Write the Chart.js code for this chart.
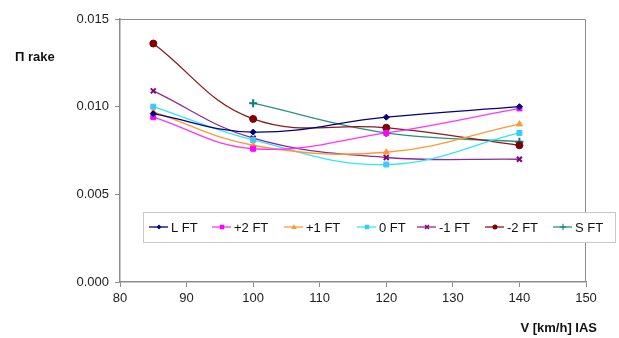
<!DOCTYPE html>
<html>
<head>
<meta charset="utf-8">
<script src="https://cdn.jsdelivr.net/npm/chart.js@4/dist/chart.umd.min.js"></script>
<style>
  html, body { margin: 0; padding: 0; background: #fff; }
  #wrap { width: 619px; height: 338px; }
</style>
</head>
<body>
<div id="wrap"><canvas id="chart" width="619" height="338"></canvas></div>
<script>
// ─── DATA ────────────────────────────────────────────────────────────────────
const speeds = [85, 100, 120, 140];
const seriesNames = ["L FT", "+2 FT", "+1 FT", "0 FT", "-1 FT", "-2 FT", "S FT"];

const lFt     = [0.0096, 0.00855, 0.0094, 0.0100];
const plus2Ft = [0.0094, 0.0076, 0.0085, 0.0099];
const plus1Ft = [0.0097, 0.0078, 0.0074, 0.0090];
const zeroFt  = [0.0100, 0.0081, 0.0067, 0.0085];
const minus1Ft = [0.0109, 0.0082, 0.0071, 0.0070];
const minus2Ft = [0.0136, 0.0093, 0.0088, 0.0078];
const sFt     = [null, 0.0102, 0.0085, 0.0080];

const yTicks = [0, 0.005, 0.010, 0.015];
const xTicks = [80, 90, 100, 110, 120, 130, 140, 150];

// ─── STYLE ───────────────────────────────────────────────────────────────────
const styles = [
    { line: "#000080", fill: "#000080", point: "rectRot",  r: 3 },
    { line: "#ff33ff", fill: "#ff00ff", point: "rect",     r: 3.5 },
    { line: "#ff9933", fill: "#ff9933", point: "triangle", r: 3.5 },
    { line: "#33e6f0", fill: "#33ccff", point: "rect",     r: 3.5 },
    { line: "#8a2b9a", fill: "#800080", point: "crossRot", r: 3.5 },
    { line: "#8b1a1a", fill: "#800000", point: "circle",   r: 3.5 },
    { line: "#2a9080", fill: "#008080", point: "cross",    r: 4 }
];

const allValues = [lFt, plus2Ft, plus1Ft, zeroFt, minus1Ft, minus2Ft, sFt];

const datasets = seriesNames.map((name, i) => ({
    label: name,
    data: speeds.map((x, j) => ({ x, y: allValues[i][j] })),
    borderColor: styles[i].line,
    backgroundColor: styles[i].fill,
    pointBorderColor: styles[i].fill,
    pointBackgroundColor: styles[i].fill,
    pointStyle: styles[i].point,
    pointRadius: styles[i].r,
    pointBorderWidth: (styles[i].point === "cross" || styles[i].point === "crossRot") ? 2 : 1,
    borderWidth: 1.3,
    tension: 0.4,
    spanGaps: true,
    fill: false
}));

// ─── PLUGINS ─────────────────────────────────────────────────────────────────
const FONT = "'Liberation Sans', Arial, sans-serif";

function drawMarker(ctx, st, x, y) {
    const r = st.r;
    ctx.save();
    ctx.fillStyle = st.fill;
    ctx.strokeStyle = st.fill;
    ctx.lineWidth = 1.5;
    ctx.beginPath();
    if (st.point === "rectRot") {
        ctx.moveTo(x, y - r); ctx.lineTo(x + r, y); ctx.lineTo(x, y + r); ctx.lineTo(x - r, y);
        ctx.closePath(); ctx.fill();
    } else if (st.point === "rect") {
        ctx.rect(x - r * 0.8, y - r * 0.8, r * 1.6, r * 1.6); ctx.fill();
    } else if (st.point === "triangle") {
        ctx.moveTo(x, y - r); ctx.lineTo(x + r, y + r * 0.7); ctx.lineTo(x - r, y + r * 0.7);
        ctx.closePath(); ctx.fill();
    } else if (st.point === "circle") {
        ctx.arc(x, y, r * 0.9, 0, Math.PI * 2); ctx.fill();
    } else if (st.point === "crossRot") {
        ctx.moveTo(x - r * 0.7, y - r * 0.7); ctx.lineTo(x + r * 0.7, y + r * 0.7);
        ctx.moveTo(x + r * 0.7, y - r * 0.7); ctx.lineTo(x - r * 0.7, y + r * 0.7);
        ctx.stroke();
    } else if (st.point === "cross") {
        ctx.moveTo(x - r, y); ctx.lineTo(x + r, y);
        ctx.moveTo(x, y - r); ctx.lineTo(x, y + r);
        ctx.lineWidth = 1; ctx.stroke();
    }
    ctx.restore();
}

const framePlugin = {
    id: "frame",
    beforeDatasetsDraw(chart) {
        const { ctx, chartArea: a } = chart;
        ctx.save();
        ctx.strokeStyle = "#8c8c8c";
        ctx.lineWidth = 1;
        ctx.beginPath();
        ctx.moveTo(a.left, a.top + 0.5);
        ctx.lineTo(a.right - 0.5, a.top + 0.5);
        ctx.lineTo(a.right - 0.5, a.bottom);
        ctx.stroke();
        ctx.restore();
    },
    afterDraw(chart) {
        const ctx = chart.ctx;
        ctx.save();
        // axis titles
        ctx.fillStyle = "#111";
        ctx.font = "bold 13px " + FONT;
        ctx.textBaseline = "middle";
        ctx.textAlign = "left";
        ctx.fillText("Π rake", 15, 57);
        ctx.textAlign = "right";
        ctx.fillText("V [km/h] IAS", 597, 328);

        // legend box
        const bx = 143, by = 212, bw = 472, bh = 30;
        ctx.fillStyle = "#fff";
        ctx.fillRect(bx, by, bw, bh);
        ctx.strokeStyle = "#c8c8c8";
        ctx.lineWidth = 1;
        ctx.strokeRect(bx + 0.5, by + 0.5, bw, bh);

        const itemX = [149, 212, 284, 357, 417, 485, 553];
        const cy = by + bh / 2;
        ctx.font = "13px " + FONT;
        ctx.textAlign = "left";
        seriesNames.forEach((name, i) => {
            const st = styles[i];
            const x0 = itemX[i];
            ctx.strokeStyle = st.line;
            ctx.lineWidth = 1.3;
            ctx.beginPath();
            ctx.moveTo(x0, cy);
            ctx.lineTo(x0 + 19, cy);
            ctx.stroke();
            drawMarker(ctx, { ...st, r: st.r * 0.8 }, x0 + 10, cy);
            ctx.fillStyle = "#111";
            ctx.fillText(name, x0 + 22, cy + 1);
        });
        ctx.restore();
    }
};

// ─── CHART ───────────────────────────────────────────────────────────────────
new Chart(document.getElementById("chart"), {
    type: "line",
    data: { datasets },
    options: {
        responsive: false,
        animation: false,
        layout: { padding: { left: 0, right: 33, top: 19, bottom: 0 } },
        plugins: {
            legend: { display: false },
            tooltip: { enabled: false }
        },
        scales: {
            x: {
                type: "linear",
                min: xTicks[0],
                max: xTicks[xTicks.length - 1],
                afterBuildTicks: s => { s.ticks = xTicks.map(v => ({ value: v })); },
                afterFit: s => { s.height = 56; },
                ticks: {
                    font: { family: FONT, size: 13 },
                    color: "#222",
                    padding: 4
                },
                grid: { drawOnChartArea: false, drawTicks: true, tickLength: 5, color: "#8c8c8c" },
                border: { display: true, color: "#8c8c8c", width: 1.5 }
            },
            y: {
                min: yTicks[0],
                max: yTicks[yTicks.length - 1],
                afterBuildTicks: s => { s.ticks = yTicks.map(v => ({ value: v })); },
                afterFit: s => { s.width = 120; },
                ticks: {
                    font: { family: FONT, size: 13 },
                    color: "#222",
                    padding: 6,
                    callback: v => v.toFixed(3)
                },
                grid: { drawOnChartArea: false, drawTicks: true, tickLength: 5, color: "#8c8c8c" },
                border: { display: true, color: "#8c8c8c", width: 1.5 }
            }
        }
    },
    plugins: [framePlugin]
});
</script>
</body>
</html>
